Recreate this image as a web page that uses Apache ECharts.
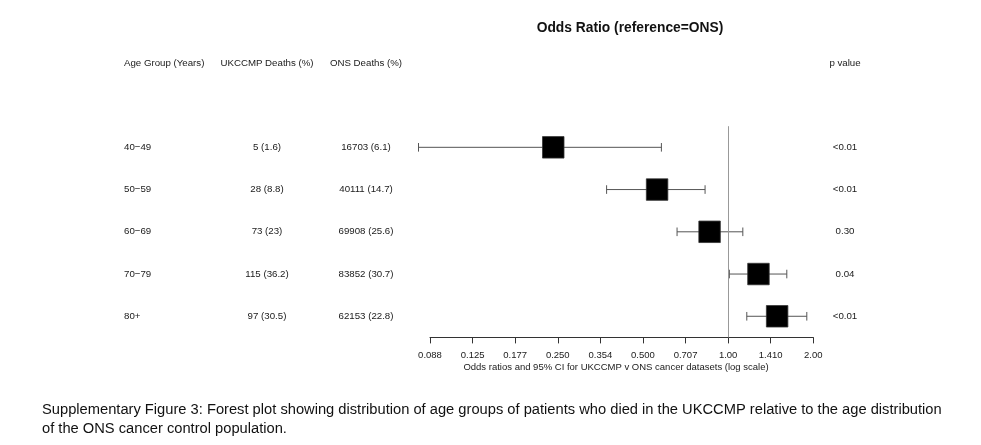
<!DOCTYPE html>
<html>
<head>
<meta charset="utf-8">
<script src="https://cdn.jsdelivr.net/npm/echarts@6/dist/echarts.min.js"></script>
<style>
html,body{margin:0;padding:0;background:#fff;}
#chart{width:981px;height:445px;}
</style>
</head>
<body>
<div id="chart"></div>
<script>
// ---- data ----
var ageGroups = ['40\u221249', '50\u221259', '60\u221269', '70\u221279', '80+'];
var ukccmpDeaths = ['5 (1.6)', '28 (8.8)', '73 (23)', '115 (36.2)', '97 (30.5)'];
var onsDeaths = ['16703 (6.1)', '40111 (14.7)', '69908 (25.6)', '83852 (30.7)', '62153 (22.8)'];
var pValues = ['<0.01', '<0.01', '0.30', '0.04', '<0.01'];
var oddsRatio = [0.241, 0.561, 0.860, 1.280, 1.490];
var ciLower = [0.0805, 0.372, 0.660, 1.010, 1.164];
var ciUpper = [0.581, 0.829, 1.127, 1.612, 1.897];
var tickLabels = ['0.088', '0.125', '0.177', '0.250', '0.354', '0.500', '0.707', '1.00', '1.410', '2.00'];

var FONT = 'Liberation Sans, Arial, Helvetica, sans-serif';
var SMALL = '9.7px ' + FONT;
function log2(v) { return Math.log(v) / Math.LN2; }

var forestData = oddsRatio.map(function (v, i) {
  return [log2(v), i + 1, log2(ciLower[i]), log2(ciUpper[i])];
});
var tableData = ageGroups.map(function (g, i) { return [0, i + 1]; });

var colX = { age: 124, uk: 267, ons: 366, p: 845 };

var chart = echarts.init(document.getElementById('chart'), null, { renderer: 'canvas' });

var option = {
  animation: false,
  backgroundColor: '#ffffff',
  grid: { left: 430, right: 167.7, top: 126.2, bottom: 107.6, containLabel: false },
  xAxis: {
    type: 'value',
    min: -3.5,
    max: 1,
    interval: 0.5,
    axisLine: { show: true, onZero: false, lineStyle: { color: '#333', width: 1 } },
    axisTick: { show: true, length: 6, lineStyle: { color: '#333', width: 1 } },
    splitLine: { show: false },
    axisLabel: {
      margin: 13,
      color: '#1a1a1a',
      fontSize: 9.5,
      fontFamily: FONT,
      formatter: function (v) {
        var idx = Math.round((v + 3.5) / 0.5);
        return tickLabels[idx] || '';
      }
    }
  },
  yAxis: {
    type: 'value',
    min: 0.5,
    max: 5.5,
    inverse: true,
    show: false
  },
  graphic: [
    { type: 'text', x: 630, y: 28, style: { text: 'Odds Ratio (reference=ONS)', font: 'bold 13.8px ' + FONT, fill: '#111', textAlign: 'center', textVerticalAlign: 'middle' } },
    { type: 'text', x: colX.age, y: 63, style: { text: 'Age Group (Years)', font: SMALL, fill: '#1a1a1a', textAlign: 'left', textVerticalAlign: 'middle' } },
    { type: 'text', x: colX.uk, y: 63, style: { text: 'UKCCMP Deaths (%)', font: SMALL, fill: '#1a1a1a', textAlign: 'center', textVerticalAlign: 'middle' } },
    { type: 'text', x: colX.ons, y: 63, style: { text: 'ONS Deaths (%)', font: SMALL, fill: '#1a1a1a', textAlign: 'center', textVerticalAlign: 'middle' } },
    { type: 'text', x: colX.p, y: 63, style: { text: 'p value', font: SMALL, fill: '#1a1a1a', textAlign: 'center', textVerticalAlign: 'middle' } },
    { type: 'text', x: 616, y: 367, style: { text: 'Odds ratios and 95% CI for UKCCMP v ONS cancer datasets (log scale)', font: '9.5px ' + FONT, fill: '#1a1a1a', textAlign: 'center', textVerticalAlign: 'middle' } },
    { type: 'text', x: 42, y: 410, style: { text: 'Supplementary Figure 3: Forest plot showing distribution of age groups of patients who died in the UKCCMP relative to the age distribution', font: '14.7px ' + FONT, fill: '#111', textAlign: 'left', textVerticalAlign: 'middle' } },
    { type: 'text', x: 42, y: 428.5, style: { text: 'of the ONS cancer control population.', font: '14.7px ' + FONT, fill: '#111', textAlign: 'left', textVerticalAlign: 'middle' } }
  ],
  series: [
    {
      type: 'custom',
      name: 'table',
      clip: false,
      silent: true,
      data: tableData,
      encode: { x: 0, y: 1 },
      renderItem: function (params, api) {
        var i = params.dataIndex;
        var y = api.coord([0, api.value(1)])[1];
        function t(x, txt, align) {
          return { type: 'text', x: x, y: y, style: { text: txt, font: SMALL, fill: '#1a1a1a', textAlign: align, textVerticalAlign: 'middle', align: align, verticalAlign: 'middle' } };
        }
        return {
          type: 'group',
          children: [
            t(colX.age, ageGroups[i], 'left'),
            t(colX.uk, ukccmpDeaths[i], 'center'),
            t(colX.ons, onsDeaths[i], 'center'),
            t(colX.p, pValues[i], 'center')
          ]
        };
      }
    },
    {
      type: 'custom',
      name: 'forest',
      clip: false,
      data: forestData,
      encode: { x: 0, y: 1 },
      markLine: {
        silent: true,
        symbol: 'none',
        label: { show: false },
        lineStyle: { color: '#999', width: 1, type: 'solid' },
        data: [{ xAxis: 0 }]
      },
      renderItem: function (params, api) {
        var c = api.coord([api.value(0), api.value(1)]);
        var lo = api.coord([api.value(2), api.value(1)]);
        var hi = api.coord([api.value(3), api.value(1)]);
        var cap = 4.3;
        var s = 21.5;
        var ls = { stroke: '#555', lineWidth: 1 };
        return {
          type: 'group',
          children: [
            { type: 'line', shape: { x1: lo[0], y1: c[1], x2: hi[0], y2: c[1] }, style: ls },
            { type: 'line', shape: { x1: lo[0], y1: c[1] - cap, x2: lo[0], y2: c[1] + cap }, style: ls },
            { type: 'line', shape: { x1: hi[0], y1: c[1] - cap, x2: hi[0], y2: c[1] + cap }, style: ls },
            { type: 'rect', shape: { x: c[0] - s / 2, y: c[1] - s / 2, width: s, height: s }, style: { fill: '#000', stroke: '#333', lineWidth: 0.8 } }
          ]
        };
      }
    }
  ]
};
chart.setOption(option);
</script>
</body>
</html>
